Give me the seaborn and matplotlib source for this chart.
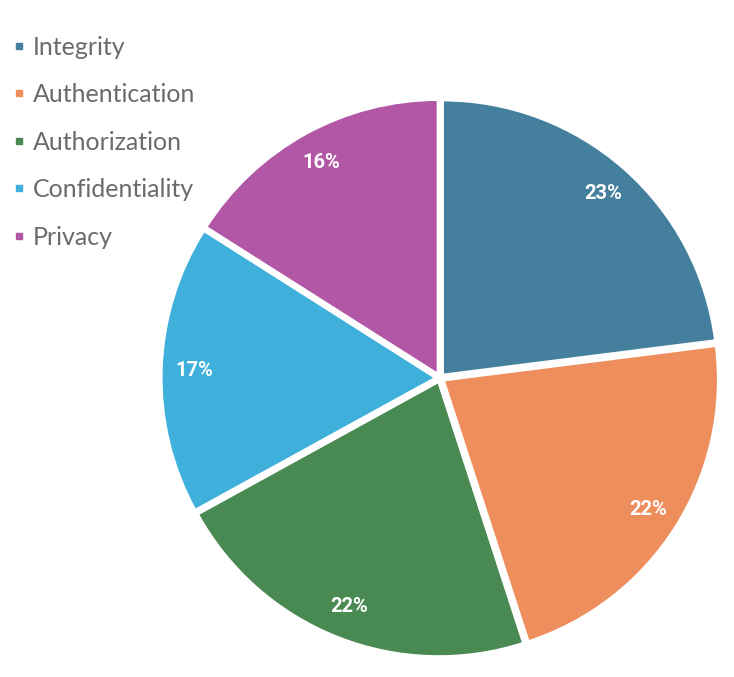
import seaborn as sns
import matplotlib.pyplot as plt
from matplotlib.lines import Line2D

# Data
categories = ['Integrity', 'Authentication', 'Authorization', 'Confidentiality', 'Privacy']
shares = [23, 22, 22, 17, 16]
colors = ['#457F9E', '#ED8E5C', '#498A52', '#3FB0DC', '#B256A6']

sns.set_theme(style='white')
plt.rcParams['font.family'] = ['Lato', 'DejaVu Sans']

fig = plt.figure(figsize=(7.34, 6.77), dpi=100)
# square axes centred on the pie (centre ~ (440, 378) px, radius ~ 280 px)
cx, cy, r = 440, 378, 280
ax = fig.add_axes([(cx - r) / 734, (677 - cy - r) / 677, 2 * r / 734, 2 * r / 677])

palette = sns.color_palette(colors)
wedges, texts, autotexts = ax.pie(
    shares, colors=palette, startangle=90, counterclock=False,
    explode=[0.012] * len(shares), radius=0.985,
    autopct='%1.0f%%', pctdistance=0.88,
    wedgeprops=dict(edgecolor='white', linewidth=2.5),
    textprops=dict(color='white', fontsize=14.5, fontweight='bold',
                   family=['Roboto', 'DejaVu Sans']))
ax.set_xlim(-1, 1)
ax.set_ylim(-1, 1)
ax.set_aspect('equal')
ax.axis('off')

# Legend: small square markers, grey text, top-left
handles = [Line2D([0], [0], marker='s', linestyle='', markersize=5,
                  markerfacecolor=c, markeredgecolor=c) for c in palette]
fig.legend(handles, categories, loc='upper left', bbox_to_anchor=(0.004, 0.962),
           frameon=False, fontsize=18, labelcolor='#6b6b6b',
           handlelength=0.5, handletextpad=0.3, labelspacing=0.98,
           borderaxespad=0)

fig.savefig('out.png', dpi=100)
